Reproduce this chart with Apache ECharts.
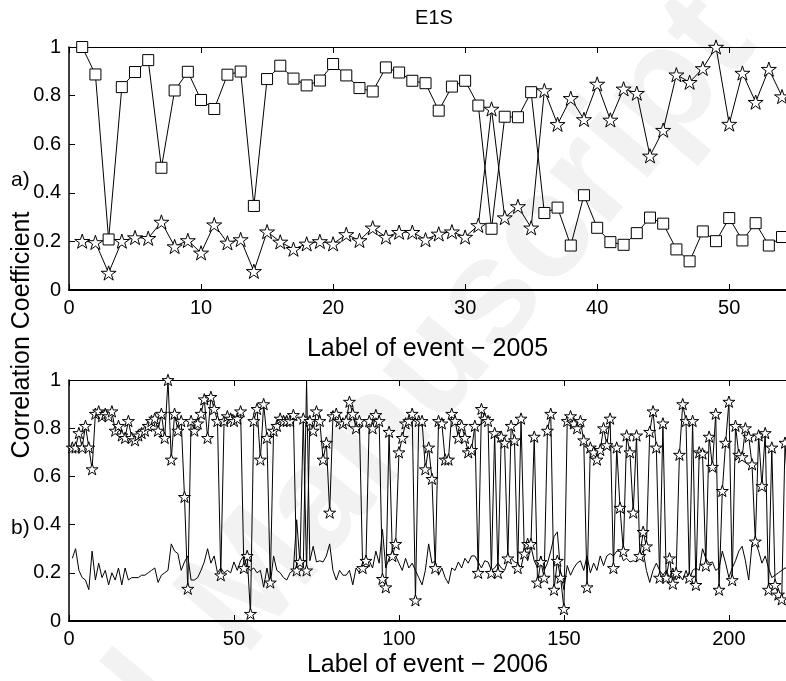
<!DOCTYPE html>
<html>
<head>
<meta charset="utf-8">
<script src="https://cdn.jsdelivr.net/npm/echarts@6/dist/echarts.min.js"></script>
<style>
html,body{margin:0;padding:0;background:#fff;}
#chart{width:786px;height:681px;}
</style>
</head>
<body>
<div id="chart"></div>
<script>
// ---- Data ----
const title = 'E1S';
const topXName = 'Label of event \u2212 2005';
const bottomXName = 'Label of event \u2212 2006';
const yName = 'Correlation Coefficient';

// Panel a): events 1..54
const topSquare = [1.0,0.887,0.208,0.835,0.897,0.946,0.503,0.821,0.898,0.782,
  0.745,0.886,0.899,0.346,0.868,0.923,0.870,0.842,0.862,0.930,
  0.883,0.831,0.817,0.916,0.895,0.861,0.851,0.738,0.837,0.861,
  0.759,0.252,0.713,0.711,0.814,0.317,0.339,0.183,0.390,0.256,
  0.197,0.186,0.234,0.298,0.273,0.167,0.118,0.241,0.201,0.296,
  0.204,0.275,0.183,0.218];
const topStar = [0.201,0.196,0.070,0.201,0.216,0.213,0.280,0.179,0.204,0.153,
  0.269,0.194,0.208,0.077,0.240,0.198,0.168,0.190,0.200,0.190,
  0.229,0.204,0.256,0.218,0.238,0.238,0.207,0.231,0.240,0.218,
  0.266,0.745,0.298,0.344,0.256,0.821,0.682,0.789,0.702,0.848,
  0.700,0.828,0.810,0.552,0.658,0.886,0.855,0.912,1.0,0.683,
  0.893,0.773,0.909,0.796];

// Panel b): events 1..218
const bottomStar = [0.72,0.72,0.78,0.72,0.81,0.72,0.63,0.86,0.87,0.85,
  0.86,0.85,0.87,0.79,0.81,0.77,0.76,0.83,0.76,0.75,
  0.77,0.78,0.79,0.81,0.83,0.84,0.79,0.86,0.76,1.0,
  0.67,0.86,0.79,0.83,0.515,0.134,0.83,0.79,0.82,0.86,
  0.92,0.76,0.93,0.88,0.83,0.19,0.83,0.85,0.84,0.83,
  0.84,0.87,0.22,0.27,0.03,0.83,0.88,0.67,0.90,0.76,
  0.16,0.79,0.81,0.84,0.83,0.83,0.83,0.855,0.21,0.245,
  0.84,0.21,0.83,0.79,0.87,0.83,0.67,0.74,0.45,0.85,
  0.86,0.83,0.82,0.83,0.91,0.86,0.80,0.83,0.22,0.25,
  0.83,0.80,0.855,0.83,0.175,0.14,0.785,0.27,0.32,0.70,
  0.76,0.82,0.83,0.86,0.086,0.83,0.83,0.63,0.72,0.59,
  0.22,0.83,0.82,0.67,0.67,0.86,0.83,0.76,0.81,0.76,
  0.70,0.71,0.81,0.20,0.88,0.84,0.83,0.20,0.78,0.20,
  0.765,0.74,0.26,0.81,0.75,0.22,0.84,0.28,0.32,0.32,
  0.765,0.16,0.245,0.18,0.79,0.86,0.13,0.25,0.18,0.05,
  0.83,0.85,0.82,0.80,0.83,0.75,0.14,0.72,0.70,0.67,
  0.71,0.80,0.73,0.84,0.22,0.72,0.47,0.29,0.77,0.70,
  0.45,0.77,0.27,0.37,0.31,0.785,0.87,0.72,0.18,0.82,
  0.18,0.26,0.155,0.20,0.69,0.90,0.83,0.18,0.83,0.15,
  0.70,0.695,0.23,0.765,0.64,0.86,0.13,0.54,0.74,0.91,
  0.17,0.81,0.69,0.68,0.80,0.765,0.65,0.33,0.77,0.56,
  0.78,0.13,0.72,0.15,0.11,0.09,0.74,0.52];
const bottomLine = [0.26,0.30,0.21,0.18,0.17,0.13,0.29,0.17,0.24,0.18,
  0.21,0.15,0.20,0.17,0.22,0.15,0.22,0.17,0.18,0.18,
  0.18,0.19,0.19,0.20,0.21,0.22,0.16,0.19,0.20,0.21,
  0.32,0.29,0.28,0.21,0.245,0.27,0.17,0.17,0.18,0.21,
  0.245,0.30,0.24,0.27,0.20,0.22,0.20,0.21,0.20,0.245,
  0.21,0.25,0.27,0.22,0.21,0.22,0.20,0.21,0.14,0.22,
  0.15,0.27,0.21,0.20,0.18,0.17,0.20,0.21,0.42,0.24,
  0.22,1.0,0.25,0.31,0.245,0.25,0.245,0.27,0.32,0.21,
  0.17,0.21,0.19,0.19,0.21,0.15,0.22,0.20,0.23,0.24,
  0.25,0.22,0.29,0.24,0.38,0.22,0.26,0.29,0.27,0.24,
  0.21,0.26,0.22,0.24,0.21,0.18,0.15,0.21,0.32,0.24,
  0.25,0.19,0.22,0.18,0.155,0.22,0.21,0.245,0.22,0.26,
  0.24,0.27,0.27,0.245,0.22,0.25,0.245,0.21,0.22,0.24,
  0.22,0.21,0.25,0.26,0.245,0.24,0.22,0.29,0.25,0.31,
  0.25,0.22,0.27,0.21,0.24,0.29,0.35,0.37,0.20,0.13,
  0.23,0.19,0.22,0.24,0.25,0.21,0.27,0.20,0.24,0.21,
  0.27,0.23,0.27,0.28,0.27,0.29,0.29,0.25,0.26,0.245,
  0.25,0.245,0.27,0.29,0.21,0.16,0.21,0.24,0.21,0.19,
  0.21,0.18,0.22,0.17,0.19,0.17,0.21,0.17,0.21,0.22,
  0.21,0.30,0.26,0.24,0.245,0.21,0.22,0.29,0.24,0.18,
  0.22,0.25,0.29,0.31,0.25,0.17,0.32,0.33,0.29,0.24,
  0.27,0.22,0.18,0.19,0.20,0.21,0.22,0.22];

// ---- Chart ----
const FONT = 'Liberation Sans, Arial, Helvetica, sans-serif';
const STAR = 'path://M0,-10 L2.245,-3.09 L9.51,-3.09 L3.633,1.18 L5.88,8.09 L0,3.82 L-5.88,8.09 L-3.633,1.18 L-9.51,-3.09 L-2.245,-3.09 Z';
const toPairs = arr => arr.map((v, i) => [i + 1, v]);

function xAx(grid, max, interval, pos, name, nameGap) {
  const showLabels = pos === 'bottom';
  return {
    type: 'value', gridIndex: grid, position: pos, min: 0, max: max, interval: interval,
    axisLine: {show: true, onZero: false, lineStyle: {color: '#000', width: pos === 'bottom' ? 2 : 1.2}},
    axisTick: {show: true, inside: true, length: 6, lineStyle: {color: '#000', width: 1}},
    axisLabel: {show: showLabels, color: '#000', fontSize: 20, fontFamily: FONT, margin: 8,
      showMaxLabel: false,
      formatter: v => (Math.abs(v / interval - Math.round(v / interval)) < 1e-6 ? String(v) : '')},
    splitLine: {show: false},
    name: showLabels ? name : '', nameLocation: 'middle', nameGap: nameGap || 0,
    nameTextStyle: {color: '#000', fontSize: 25, fontFamily: FONT}
  };
}
function yAx(grid) {
  return {
    type: 'value', gridIndex: grid, min: 0, max: 1, interval: 0.2,
    axisLine: {show: true, lineStyle: {color: '#000', width: 1.5}},
    axisTick: {show: true, inside: true, length: 6, lineStyle: {color: '#000', width: 1}},
    axisLabel: {color: '#000', fontSize: 20, fontFamily: FONT, margin: 8,
      formatter: v => String(+v.toFixed(1))},
    splitLine: {show: false}
  };
}
function lineSeries(xi, yi, data, symbol, size) {
  return {
    type: 'line', xAxisIndex: xi, yAxisIndex: yi, data: data,
    symbol: symbol || 'none', showSymbol: !!symbol, symbolSize: size || 0, symbolKeepAspect: true,
    lineStyle: {color: '#000', width: 1},
    itemStyle: {color: '#fff', borderColor: '#000', borderWidth: 1},
    emphasis: {disabled: true}, silent: true, animation: false, clip: true
  };
}

const chart = echarts.init(document.getElementById('chart'), null, {renderer: 'canvas'});
chart.setOption({
  backgroundColor: '#fff',
  animation: false,
  grid: [
    {left: 69, right: 0, top: 47, height: 243},
    {left: 69, right: 0, top: 380, height: 241}
  ],
  xAxis: [
    xAx(0, 54.3, 10, 'bottom', topXName, 47),
    xAx(0, 54.3, 10, 'top', ''),
    xAx(1, 217.3, 50, 'bottom', bottomXName, 32),
    xAx(1, 217.3, 50, 'top', '')
  ],
  yAxis: [yAx(0), yAx(1)],
  series: [
    lineSeries(0, 0, toPairs(topSquare), 'rect', 11),
    lineSeries(0, 0, toPairs(topStar), STAR, 15),
    lineSeries(2, 1, toPairs(bottomLine), null, 0),
    lineSeries(2, 1, toPairs(bottomStar), STAR, 12)
  ],
  graphic: [
    {type: 'text', z: -10, x: 270, y: 680, rotation: 50 * Math.PI / 180,
      style: {text: 'Manuscript', fill: 'rgba(0,0,0,0.05)', font: 'bold 150px ' + FONT, textAlign: 'left', textVerticalAlign: 'bottom'}},
    {type: 'text', z: -10, x: 255, y: 697, rotation: 50 * Math.PI / 180,
      style: {text: 'Accepted ', fill: 'rgba(0,0,0,0.05)', font: 'bold 150px ' + FONT, textAlign: 'right', textVerticalAlign: 'bottom'}},
    {type: 'text', x: 434, y: 18, style: {text: title, fill: '#000', font: '20px ' + FONT, textAlign: 'center', textVerticalAlign: 'middle'}},
    {type: 'text', x: 22, y: 335, rotation: Math.PI / 2,
      style: {text: yName, fill: '#000', font: '25px ' + FONT, textAlign: 'center', textVerticalAlign: 'middle'}},
    {type: 'text', x: 11, y: 180, style: {text: 'a)', fill: '#000', font: '21px ' + FONT, textVerticalAlign: 'middle'}},
    {type: 'text', x: 11, y: 528, style: {text: 'b)', fill: '#000', font: '21px ' + FONT, textVerticalAlign: 'middle'}}
  ]
});
</script>
</body>
</html>
